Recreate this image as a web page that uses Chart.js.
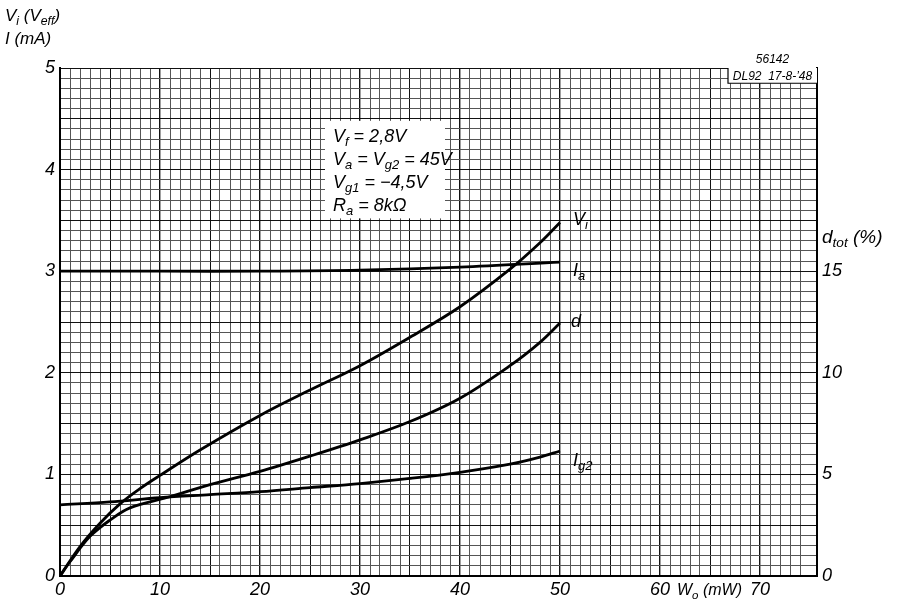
<!DOCTYPE html>
<html>
<head>
<meta charset="utf-8">
<script src="https://cdn.jsdelivr.net/npm/chart.js@4/dist/chart.umd.min.js"></script>
<style>
  body { margin: 0; background: #fff; }
  canvas { display: block; }
</style>
</head>
<body>
<canvas id="chart" width="897" height="603"></canvas>
<script>
// output power W_o (mW) per curve
const viX = [0, 2, 4, 6, 8, 10, 14, 20, 25, 30, 35, 40, 45, 48, 50];
const viY = [0, 0.29, 0.52, 0.71, 0.86, 0.99, 1.24, 1.58, 1.83, 2.07, 2.35, 2.65, 3.02, 3.28, 3.48];

const iaX = [0, 10, 20, 30, 40, 50];
const iaY = [3.0, 3.0, 3.0, 3.01, 3.04, 3.09];

const dX = [0, 1, 3, 5, 7, 11, 15, 20, 25, 30, 35, 40, 45, 48, 50];
const dY = [0, 0.7, 1.95, 2.75, 3.35, 3.9, 4.5, 5.15, 5.9, 6.7, 7.6, 8.75, 10.35, 11.5, 12.45];

const ig2X = [0, 5, 10, 15, 20, 25, 30, 35, 40, 45, 48, 50];
const ig2Y = [0.7, 0.73, 0.77, 0.8, 0.83, 0.87, 0.91, 0.96, 1.02, 1.1, 1.17, 1.23];

const xLabels = [0, 10, 20, 30, 40, 50, 60, 70];
const yLabels = [0, 1, 2, 3, 4, 5];
const dLabels = [0, 5, 10, 15];

const FONT = "'Liberation Sans Narrow', 'Liberation Sans', sans-serif";

function pts(xs, ys) {
    return xs.map((x, i) => ({ x: x, y: ys[i] }));
}

function near(v, list) {
    return list.some(t => Math.abs(v - t) < 1e-6);
}

// text with subscripts: parts = [[text, sub], ...]
function drawParts(ctx, parts, x, y, size) {
    let cx = x;
    parts.forEach(p => {
        const s = p[1] ? size * 0.72 : size;
        ctx.font = 'italic ' + s + 'px ' + FONT;
        ctx.fillText(p[0], cx, p[1] ? y + size * 0.22 : y);
        cx += ctx.measureText(p[0]).width;
    });
    return cx;
}

const curve = (label, data, axis) => ({
    label: label,
    data: data,
    yAxisID: axis,
    borderColor: '#000',
    borderWidth: 2.8,
    pointRadius: 0,
    fill: false,
    tension: 0.35
});

const textPlugin = {
    id: 'sheetText',
    afterDraw(chart) {
        const ctx = chart.ctx;
        const x = chart.scales.x, y = chart.scales.y, y2 = chart.scales.y2;
        const area = chart.chartArea;
        ctx.save();
        ctx.fillStyle = '#000';
        ctx.textBaseline = 'alphabetic';
        ctx.textAlign = 'left';

        // axis titles
        drawParts(ctx, [['V', 0], ['i', 1], [' (V', 0], ['eff', 1], [')', 0]], 5, 21, 17);
        drawParts(ctx, [['I (mA)', 0]], 5, 44, 17);
        drawParts(ctx, [['d', 0], ['tot', 1], [' (%)', 0]], 822, 243, 19);

        // x title between 60 and 70
        drawParts(ctx, [['W', 0], ['o', 1], [' (mW)', 0]], x.getPixelForValue(60) + 17, area.bottom + 19, 16);

        // condition box
        const bx = x.getPixelForValue(26.5), by = y.getPixelForValue(4.48);
        const bw = x.getPixelForValue(38.5) - bx, bh = y.getPixelForValue(3.52) - by;
        ctx.fillStyle = '#fff';
        ctx.fillRect(bx, by, bw, bh);
        ctx.fillStyle = '#000';
        const lx = bx + 8;
        drawParts(ctx, [['V', 0], ['f', 1], [' = 2,8V', 0]], lx, by + 21, 18);
        drawParts(ctx, [['V', 0], ['a', 1], [' = V', 0], ['g2', 1], [' = 45V', 0]], lx, by + 44, 18);
        drawParts(ctx, [['V', 0], ['g1', 1], [' = \u22124,5V', 0]], lx, by + 67, 18);
        drawParts(ctx, [['R', 0], ['a', 1], [' = 8k\u03a9', 0]], lx, by + 90, 18);

        // curve end labels
        const ex = x.getPixelForValue(50) + 13;
        drawParts(ctx, [['V', 0], ['i', 1]], ex, y.getPixelForValue(3.45), 18);
        drawParts(ctx, [['I', 0], ['a', 1]], ex, y.getPixelForValue(2.95), 18);
        drawParts(ctx, [['d', 0]], ex - 2, y2.getPixelForValue(12.25), 18);
        drawParts(ctx, [['I', 0], ['g2', 1]], ex, y.getPixelForValue(1.08), 18);

        // drawing number block, top right
        const kx = x.getPixelForValue(66.8);
        const ky = y.getPixelForValue(4.85);
        ctx.fillStyle = '#fff';
        ctx.fillRect(kx, area.top, area.right - kx, ky - area.top);
        ctx.strokeStyle = '#000';
        ctx.lineWidth = 1.2;
        ctx.beginPath();
        ctx.moveTo(kx, area.top);
        ctx.lineTo(kx, ky);
        ctx.lineTo(area.right, ky);
        ctx.stroke();
        ctx.fillStyle = '#000';
        ctx.font = 'italic 12px ' + FONT;
        ctx.textAlign = 'center';
        ctx.fillText('56142', (kx + area.right) / 2, area.top - 5);
        ctx.fillText('DL92  17-8-\u201948', (kx + area.right) / 2, ky - 3);
        ctx.restore();
    }
};

new Chart(document.getElementById('chart'), {
    type: 'line',
    data: {
        datasets: [
            curve('Vi', pts(viX, viY), 'y'),
            curve('Ia', pts(iaX, iaY), 'y'),
            curve('d', pts(dX, dY), 'y2'),
            curve('Ig2', pts(ig2X, ig2Y), 'y')
        ]
    },
    options: {
        responsive: false,
        animation: false,
        layout: { padding: { left: 0, right: 0, top: 68, bottom: 0 } },
        plugins: { legend: { display: false }, tooltip: { enabled: false } },
        scales: {
            x: {
                type: 'linear',
                min: 0,
                max: 75.7,
                afterFit: s => { s.height = 27; },
                ticks: {
                    stepSize: 1,
                    autoSkip: false,
                    maxRotation: 0,
                    padding: 3,
                    color: '#000',
                    font: { family: FONT, size: 18, style: 'italic' },
                    callback: v => near(v, xLabels) ? String(v) : ''
                },
                grid: {
                    drawTicks: false,
                    color: c => (c.tick && c.tick.value % 5 === 0) ? '#111' : '#555',
                    lineWidth: c => (c.tick && c.tick.value % 10 === 0) ? 1.4 : 1
                },
                border: { color: '#000', width: 2 }
            },
            y: {
                type: 'linear',
                position: 'left',
                min: 0,
                max: 5,
                afterFit: s => { s.width = 60; },
                ticks: {
                    stepSize: 0.1,
                    autoSkip: false,
                    padding: 5,
                    color: '#000',
                    font: { family: FONT, size: 18, style: 'italic' },
                    callback: v => near(v, yLabels) ? String(Math.round(v)) : ''
                },
                grid: {
                    drawTicks: false,
                    color: c => (c.tick && Math.abs(c.tick.value * 2 - Math.round(c.tick.value * 2)) < 1e-6) ? '#111' : '#555',
                    lineWidth: 1
                },
                border: { color: '#000', width: 2 }
            },
            y2: {
                type: 'linear',
                position: 'right',
                min: 0,
                max: 25,
                afterFit: s => { s.width = 80; },
                ticks: {
                    stepSize: 5,
                    padding: 5,
                    color: '#000',
                    font: { family: FONT, size: 18, style: 'italic' },
                    callback: v => near(v, dLabels) ? String(v) : ''
                },
                grid: { drawOnChartArea: false, drawTicks: false },
                border: { color: '#000', width: 2 }
            }
        }
    },
    plugins: [textPlugin]
});
</script>
</body>
</html>
